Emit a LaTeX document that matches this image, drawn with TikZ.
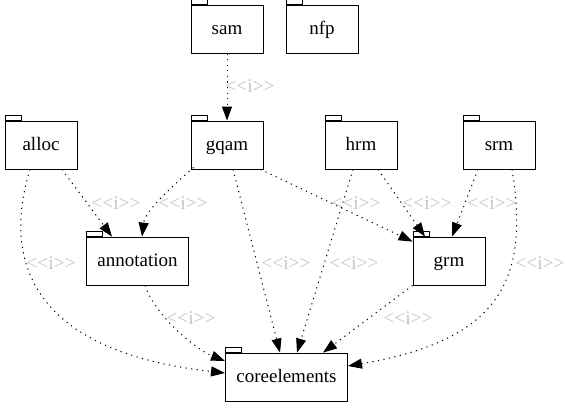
\documentclass[tikz,border=0pt]{standalone}
\usepackage{fontspec}
\setmainfont{Liberation Serif}
\usetikzlibrary{arrows.meta}
\definecolor{stereo}{RGB}{188,200,200}

\begin{document}
\begin{tikzpicture}[x=1pt,y=1pt,
    pkg/.style={
        draw,
        line width=0.8pt,
        minimum width=72pt,  % package box
        minimum height=48pt,
        inner xsep=11pt,
        text height=13pt, text depth=3pt,
        font=\fontsize{19}{21}\selectfont,
        label={[draw, line width=0.8pt, minimum width=16pt, minimum height=5pt,
                text height=, text depth=,
                inner sep=0pt, anchor=south west]north west:{}}  % the tab
    },
    dep/.style={
        dash pattern=on 1.2pt off 4.4pt,
        line width=1pt,
        -{Triangle[length=14pt,width=10pt]}
    },
    lab/.style={text=stereo, inner sep=0pt, font=\fontsize{19.5}{21}\selectfont}
]
\useasboundingbox (0,0) rectangle (572,-407);

% packages
\node[pkg] (sam) at (227,-29) {sam};
\node[pkg] (nfp) at (322,-29) {nfp};
\node[pkg] (alloc) at (41,-145) {alloc};
\node[pkg] (gqam) at (227,-145) {gqam};
\node[pkg] (hrm) at (361,-145) {hrm};
\node[pkg] (srm) at (499,-145) {srm};
\node[pkg] (annotation) at (137.5,-261) {annotation};
\node[pkg] (grm) at (449,-261) {grm};
\node[pkg] (coreelements) at (286.5,-377) {coreelements};

% dependencies
\draw[dep] (sam.south) -- (gqam.north);
\draw[dep] ([xshift=21pt]alloc.south) -- ([xshift=-25.5pt]annotation.north);
\draw[dep] ([xshift=3pt,yshift=2pt]gqam.south west) .. controls +(-25,-22) and +(3,25) .. ([xshift=4.5pt]annotation.north);
\draw[dep] ([xshift=-11pt]alloc.south) .. controls (5,-250) and (20,-350) .. ([yshift=4pt]coreelements.west);
\draw[dep] ([xshift=7.5pt]annotation.south) .. controls +(10,-30) and +(-30,12) .. ([yshift=16pt]coreelements.west);
\draw[dep] ([xshift=6pt]gqam.south) -- ([xshift=-6.5pt]coreelements.north);
\draw[dep] ([xshift=-3pt]gqam.south east) -- ([yshift=-5pt]grm.north west);
\draw[dep] ([xshift=-8pt]hrm.south) -- ([xshift=10.5pt]coreelements.north);
\draw[dep] ([xshift=17pt]hrm.south) -- ([xshift=-24pt]grm.north);
\draw[dep] ([xshift=-21pt]srm.south) -- ([xshift=3pt]grm.north);
\draw[dep] ([xshift=13pt]srm.south) .. controls (530,-280) and (500,-340) .. ([yshift=11pt]coreelements.east);
\draw[dep] (grm.south west) -- ([xshift=36.5pt]coreelements.north);

% stereotypes
\node[lab] (l1) at (250,-86) {<\kern0pt<i>\kern0pt>};
\node[lab] (l2) at (116,-203) {<\kern0pt<i>\kern0pt>};
\node[lab] (l3) at (183,-203) {<\kern0pt<i>\kern0pt>};
\node[lab] (l4) at (51,-263) {<\kern0pt<i>\kern0pt>};
\node[lab] (l5) at (191,-318) {<\kern0pt<i>\kern0pt>};
\node[lab] (l6) at (286,-263) {<\kern0pt<i>\kern0pt>};
\node[lab] (l7) at (356,-203) {<\kern0pt<i>\kern0pt>};
\node[lab] (l8) at (354,-263) {<\kern0pt<i>\kern0pt>};
\node[lab] (l9) at (427,-203) {<\kern0pt<i>\kern0pt>};
\node[lab] (l10) at (492,-203) {<\kern0pt<i>\kern0pt>};
\node[lab] (l11) at (540,-263) {<\kern0pt<i>\kern0pt>};
\node[lab] (l12) at (408,-318) {<\kern0pt<i>\kern0pt>};
\end{tikzpicture}
\end{document}
